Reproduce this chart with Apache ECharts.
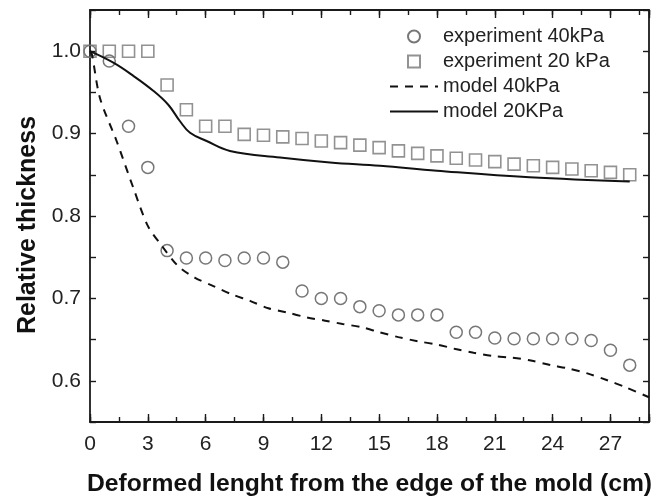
<!DOCTYPE html>
<html>
<head>
<meta charset="utf-8">
<script src="https://cdn.jsdelivr.net/npm/echarts@6/dist/echarts.min.js"></script>
<style>html,body{margin:0;padding:0;background:#fff;}#c{width:665px;height:500px;}</style>
</head>
<body>
<div id="c"></div>
<script>
// Experimental points (x in cm)
var expX = [0,1,2,3,4,5,6,7,8,9,10,11,12,13,14,15,16,17,18,19,20,21,22,23,24,25,26,27,28];
var exp40 = [1.0,0.988,0.909,0.859,0.758,0.749,0.749,0.746,0.749,0.749,0.744,0.709,0.700,0.700,0.690,0.685,0.680,0.680,0.680,0.659,0.659,0.652,0.651,0.651,0.651,0.651,0.649,0.637,0.619];
var exp20 = [1.0,1.0,1.0,1.0,0.959,0.929,0.909,0.909,0.899,0.898,0.896,0.894,0.891,0.889,0.886,0.883,0.879,0.876,0.873,0.870,0.868,0.866,0.863,0.861,0.859,0.857,0.855,0.853,0.850];
// Model curves
var model40X = [0,0.1,0.52,1.38,2.25,3.0,3.72,4.58,5.45,6.4,7.35,8.3,9.25,10.2,11.24,12.2,13.1,14.1,15,16,17,18,18.9,19.9,20.9,21.9,22.8,23.9,24.8,25.8,26.8,27.8,29];
var model40Y = [1.0,0.996,0.943,0.891,0.834,0.788,0.764,0.739,0.725,0.715,0.705,0.697,0.688,0.683,0.677,0.673,0.669,0.665,0.659,0.653,0.648,0.644,0.639,0.634,0.630,0.628,0.625,0.619,0.615,0.609,0.601,0.592,0.580];
var model20X = [0,1.21,2.25,3.28,4.06,4.67,5.19,6.05,7.26,9.86,12.45,15.05,18,22.8,28];
var model20Y = [1.0,0.986,0.970,0.952,0.935,0.915,0.901,0.891,0.879,0.871,0.865,0.861,0.855,0.847,0.842];
var xTitle = 'Deformed lenght from the edge of the mold (cm)';
var yTitle = 'Relative thickness';
var names = ['experiment 40kPa','experiment 20 kPa','model 40kPa','model 20KPa'];

function zip(a,b){return a.map(function(v,i){return [v,b[i]];});}

var chart = echarts.init(document.getElementById('c'), null, {renderer:'canvas'});
var FONT = 'Liberation Sans, Arial, Helvetica, sans-serif';
var lineCol = '#1a1a1a';
var SQUARE = 'path://M0,0L10,0L10,10L0,10Z';
function xAx(pos, interval, len, labels, line){
  return {type:'value', position:pos, min:0, max:29, interval:interval,
    axisLine:{show:line, onZero:false, lineStyle:{color:lineCol,width:1.8}},
    axisTick:{show:true, inside:true, length:len, lineStyle:{color:lineCol,width:1.4}},
    axisLabel:{show:labels, margin:12, fontSize:21, color:'#222', fontFamily:FONT,
      formatter:function(v){return (Math.abs(v%3)<1e-6 && v<28.5)? String(v):'';}},
    splitLine:{show:false}};
}
function yAx(pos, labels){
  return {type:'value', position:pos, min:0.55, max:1.05, interval:0.05,
    axisLine:{show:true, onZero:false, lineStyle:{color:lineCol,width:1.8}},
    axisTick:{show:true, inside:true, length:6, lineStyle:{color:lineCol,width:1.4}},
    axisLabel:{show:labels, margin:9, fontSize:21, color:'#222', fontFamily:FONT,
      formatter:function(v){var t=v*10; return Math.abs(t-Math.round(t))<1e-6 && v<1.04 && v>0.56 ? v.toFixed(1):'';}},
    splitLine:{show:false}};
}
var xAxes = [xAx('bottom',3,8,true,true), xAx('bottom',1.5,5,false,false), xAx('top',3,8,false,true), xAx('top',1.5,5,false,false)];
var yAxes = [yAx('left',true), yAx('right',false)];

chart.setOption({
  animation:false,
  backgroundColor:'#fff',
  grid:{left:90, right:16, top:10, bottom:78, containLabel:false},
  xAxis:xAxes,
  yAxis:yAxes,
  legend:{orient:'vertical', left:384, top:19, itemWidth:48, itemHeight:12, itemGap:0,
    textStyle:{fontSize:20, color:'#222', fontFamily:FONT, lineHeight:25},
    data:[names[0], names[1],
      {name:names[2], itemStyle:{opacity:0}},
      {name:names[3], itemStyle:{opacity:0}}]},
  graphic:[
    {type:'text', left:87, top:472, style:{text:xTitle, font:'bold 24.7px '+FONT, fill:'#111'}},
    {type:'text', x:16, y:225, rotation:Math.PI/2, style:{text:yTitle, font:'bold 25px '+FONT, fill:'#111', align:'center', verticalAlign:'top'}}
  ],
  series:[
    {name:names[0], type:'scatter', data:zip(expX,exp40), symbol:'circle', symbolSize:12, xAxisIndex:0, yAxisIndex:0,
     itemStyle:{color:'rgba(255,255,255,0)', borderColor:'#555', borderWidth:1.5}},
    {name:names[1], type:'scatter', data:zip(expX,exp20), symbol:SQUARE, symbolSize:12, symbolKeepAspect:true, xAxisIndex:0, yAxisIndex:0,
     itemStyle:{color:'rgba(255,255,255,0)', borderColor:'#777', borderWidth:1.6}},
    {name:names[2], type:'line', data:zip(model40X,model40Y), symbol:'none', smooth:0.3, xAxisIndex:0, yAxisIndex:0,
     lineStyle:{color:'#111', width:2, type:[8,7]}, itemStyle:{color:'#111'}},
    {name:names[3], type:'line', data:zip(model20X,model20Y), symbol:'none', smooth:0.4, xAxisIndex:0, yAxisIndex:0,
     lineStyle:{color:'#111', width:2, type:'solid'}, itemStyle:{color:'#111'}}
  ]
});
</script>
</body>
</html>
